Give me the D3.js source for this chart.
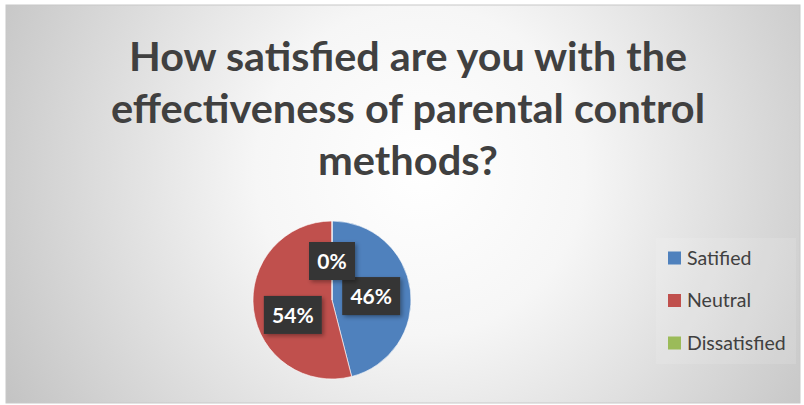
<!DOCTYPE html>
<html><head><meta charset="utf-8">
<script src="https://cdn.jsdelivr.net/npm/d3@7"></script>
<style>html,body{margin:0;padding:0;background:#fff;}svg{display:block;}</style>
</head><body>
<svg id="c" width="804" height="405"></svg>
<script>
const categories = ["Satified", "Neutral", "Dissatisfied"];
const values = [46, 54, 0];
const colors = ["#4F81BD", "#C0504D", "#9BBB59"];
const titleLines = ["How satisfied are you with the", "effectiveness of parental control", "methods?"];

const svg = d3.select("#c");
const defs = svg.append("defs");
const rg = defs.append("radialGradient").attr("id", "bg")
  .attr("gradientUnits", "userSpaceOnUse")
  .attr("cx", 420).attr("cy", 170).attr("r", 470);
rg.append("stop").attr("offset", "0%").attr("stop-color", "#ffffff");
rg.append("stop").attr("offset", "35%").attr("stop-color", "#f6f6f6");
rg.append("stop").attr("offset", "100%").attr("stop-color", "#c4c4c4");
const f = defs.append("filter").attr("id", "sh").attr("x", "-30%").attr("y", "-30%").attr("width", "160%").attr("height", "160%");
f.append("feDropShadow").attr("dx", 2).attr("dy", 2).attr("stdDeviation", 2).attr("flood-color", "#000").attr("flood-opacity", 0.35);

svg.append("rect").attr("x", 6).attr("y", 5).attr("width", 794).attr("height", 398)
  .attr("fill", "url(#bg)").attr("stroke", "#c8c8c8").attr("stroke-width", 1);

// Title
const title = svg.append("g").attr("font-family", "Lato, 'Open Sans', sans-serif")
  .attr("font-weight", "bold").attr("font-size", 40).attr("fill", "#404040").attr("text-anchor", "middle");
const titleWidths = [558, 594, 180];
title.selectAll("text").data(titleLines).join("text")
  .attr("x", 408).attr("y", (d, i) => 71 + i * 52)
  .attr("textLength", (d, i) => titleWidths[i]).attr("lengthAdjust", "spacingAndGlyphs")
  .text(d => d);

// Pie
const cx = 332, cy = 300, R = 79;
const pie = d3.pie().sort(null).value(d => d)(values);
const arc = d3.arc().innerRadius(0).outerRadius(R);
const g = svg.append("g").attr("transform", `translate(${cx},${cy})`);
g.selectAll("path").data(pie).join("path")
  .attr("d", arc).attr("fill", (d, i) => colors[i])
  .attr("stroke", "#fff").attr("stroke-width", 0.6);

// Labels
const labelArc = d3.arc().innerRadius(R * 0.5).outerRadius(R * 0.5);
const nudges = [[0, 1], [0, 10], [0, -39]];
const total = d3.sum(values);
const lab = g.selectAll("g.lab").data(pie).join("g").attr("class", "lab")
  .attr("transform", (d, i) => {
    let c = labelArc.centroid(d);
    if (d.value === 0) c = [0, 0];
    return `translate(${c[0] + nudges[i][0]},${c[1] + nudges[i][1]})`;
  });
lab.each(function(d) {
  const s = d3.select(this);
  const txt = Math.round(d.value / total * 100) + "%";
  const w = txt.length === 2 ? 46 : 58;
  s.append("rect").attr("x", -w / 2).attr("y", -19).attr("width", w).attr("height", 38)
    .attr("fill", "#363636").attr("filter", "url(#sh)");
  s.append("text").attr("text-anchor", "middle").attr("dy", "0.36em")
    .attr("font-family", "Lato, 'Open Sans', sans-serif").attr("font-weight", "bold")
    .attr("font-size", 21).attr("fill", "#ffffff").text(txt);
});

// Legend
const lg = svg.append("g");
lg.append("rect").attr("x", 656).attr("y", 238).attr("width", 140).attr("height", 126)
  .attr("fill", "#ffffff").attr("fill-opacity", 0.12);
const items = lg.selectAll("g.it").data(categories).join("g").attr("class", "it")
  .attr("transform", (d, i) => `translate(668,${258 + i * 42.5})`);
items.append("rect").attr("x", 0).attr("y", -6.5).attr("width", 13).attr("height", 13)
  .attr("fill", (d, i) => colors[i]);
items.append("text").attr("x", 19).attr("dy", "0.35em")
  .attr("font-family", "Lato, 'Open Sans', sans-serif").attr("font-size", 19.5)
  .attr("fill", "#404040").text(d => d);
</script>
</body></html>
